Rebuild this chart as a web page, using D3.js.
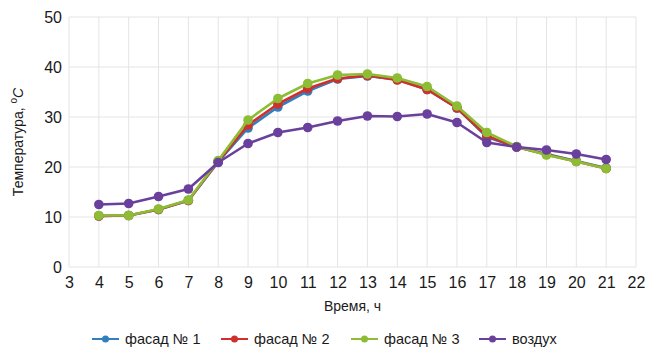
<!DOCTYPE html>
<html>
<head>
<meta charset="utf-8">
<script src="https://cdn.jsdelivr.net/npm/d3@7"></script>
<style>
  html, body { margin: 0; padding: 0; background: #fff; }
  svg { display: block; font-family: "Liberation Sans", Arial, sans-serif; }
</style>
</head>
<body>
<svg id="chart" width="647" height="355"></svg>
<script>
// Hours of the day (x) and measured temperatures, °C
const hours = [4, 5, 6, 7, 8, 9, 10, 11, 12, 13, 14, 15, 16, 17, 18, 19, 20, 21];
const facade1 = [10.2, 10.3, 11.5, 13.3, 21.0, 27.8, 32.0, 35.2, 37.6, 38.2, 37.5, 35.5, 31.8, 26.0, 24.0, 22.6, 21.2, 19.8];
const facade2 = [10.2, 10.3, 11.5, 13.3, 21.1, 28.4, 32.6, 35.7, 37.7, 38.3, 37.4, 35.5, 31.8, 26.2, 24.0, 22.5, 21.1, 19.7];
const facade3 = [10.3, 10.3, 11.6, 13.4, 21.3, 29.4, 33.7, 36.7, 38.4, 38.6, 37.8, 36.1, 32.2, 26.9, 24.1, 22.4, 21.1, 19.7];
const air     = [12.5, 12.7, 14.1, 15.6, 20.9, 24.7, 26.9, 27.9, 29.2, 30.2, 30.1, 30.6, 28.9, 24.9, 24.0, 23.4, 22.6, 21.5];

const seriesNames = ["фасад № 1", "фасад № 2", "фасад № 3", "воздух"];
const seriesColors = ["#2f7fc1", "#d0302c", "#8cbd34", "#6a409c"];
const xTicks = d3.range(3, 23);
const yTicks = [0, 10, 20, 30, 40, 50];

const series = [facade1, facade2, facade3, air].map((vals, i) => ({
  name: seriesNames[i],
  color: seriesColors[i],
  points: hours.map((h, j) => ({ x: h, y: vals[j] }))
}));

const svg = d3.select("#chart");
const plotLeft = 69, plotRight = 636, plotTop = 17, plotBottom = 267;

const x = d3.scaleLinear().domain([3, 22]).range([plotLeft, plotRight]);
const y = d3.scaleLinear().domain([0, 50]).range([plotBottom, plotTop]);

// grid
const grid = svg.append("g");
grid.selectAll("line.v").data(xTicks).join("line").attr("class", "v")
  .attr("x1", d => x(d)).attr("x2", d => x(d))
  .attr("y1", plotTop).attr("y2", plotBottom)
  .attr("stroke", "#e4e4e4").attr("stroke-width", 1);
grid.selectAll("line.h").data(yTicks).join("line").attr("class", "h")
  .attr("x1", plotLeft).attr("x2", plotRight)
  .attr("y1", d => y(d)).attr("y2", d => y(d))
  .attr("stroke", "#e4e4e4").attr("stroke-width", 1);

// axes (labels only, no domain line or ticks)
const xAxis = svg.append("g")
  .attr("transform", `translate(0,${plotBottom})`)
  .call(d3.axisBottom(x).tickValues(xTicks).tickFormat(d3.format("d")).tickSize(0).tickPadding(10));
xAxis.select(".domain").remove();
xAxis.selectAll("text").attr("font-size", 16).attr("fill", "#1a1a1a")
  .attr("font-family", "'Liberation Sans', Arial, sans-serif");

const yAxis = svg.append("g")
  .attr("transform", `translate(${plotLeft},0)`)
  .call(d3.axisLeft(y).tickValues(yTicks).tickSize(0).tickPadding(7));
yAxis.select(".domain").remove();
yAxis.selectAll("text").attr("font-size", 16).attr("fill", "#1a1a1a")
  .attr("font-family", "'Liberation Sans', Arial, sans-serif");

// axis titles
svg.append("text")
  .attr("x", (plotLeft + plotRight) / 2).attr("y", 311)
  .attr("text-anchor", "middle").attr("font-size", 14).attr("fill", "#1a1a1a")
  .text("Время, ч");

const yt = svg.append("text")
  .attr("transform", `translate(23,${(plotTop + plotBottom) / 2}) rotate(-90)`)
  .attr("text-anchor", "middle").attr("font-size", 14).attr("fill", "#1a1a1a");
yt.append("tspan").text("Температура, ");
yt.append("tspan").attr("font-size", 10).attr("dy", -6).text("o");
yt.append("tspan").attr("font-style", "italic").attr("dy", 6).text("C");

// lines and markers
const line = d3.line().x(d => x(d.x)).y(d => y(d.y));
const plot = svg.append("g");
series.forEach(s => {
  const g = plot.append("g");
  g.append("path").datum(s.points)
    .attr("d", line).attr("fill", "none")
    .attr("stroke", s.color).attr("stroke-width", 2.6)
    .attr("stroke-linejoin", "round");
  g.selectAll("circle").data(s.points).join("circle")
    .attr("cx", d => x(d.x)).attr("cy", d => y(d.y))
    .attr("r", 4.8).attr("fill", s.color);
});

// legend
const legendX = [92, 221, 351, 479];
const legend = svg.append("g").attr("transform", "translate(0,339)");
series.forEach((s, i) => {
  const g = legend.append("g").attr("transform", `translate(${legendX[i]},0)`);
  g.append("line").attr("x1", 0).attr("x2", 27).attr("y1", 0).attr("y2", 0)
    .attr("stroke", s.color).attr("stroke-width", 2);
  g.append("circle").attr("cx", 13.5).attr("cy", 0).attr("r", 3.5).attr("fill", s.color);
  g.append("text").attr("x", 33).attr("y", 5)
    .attr("font-size", 14.5).attr("fill", "#1a1a1a").text(s.name);
});
</script>
</body>
</html>
